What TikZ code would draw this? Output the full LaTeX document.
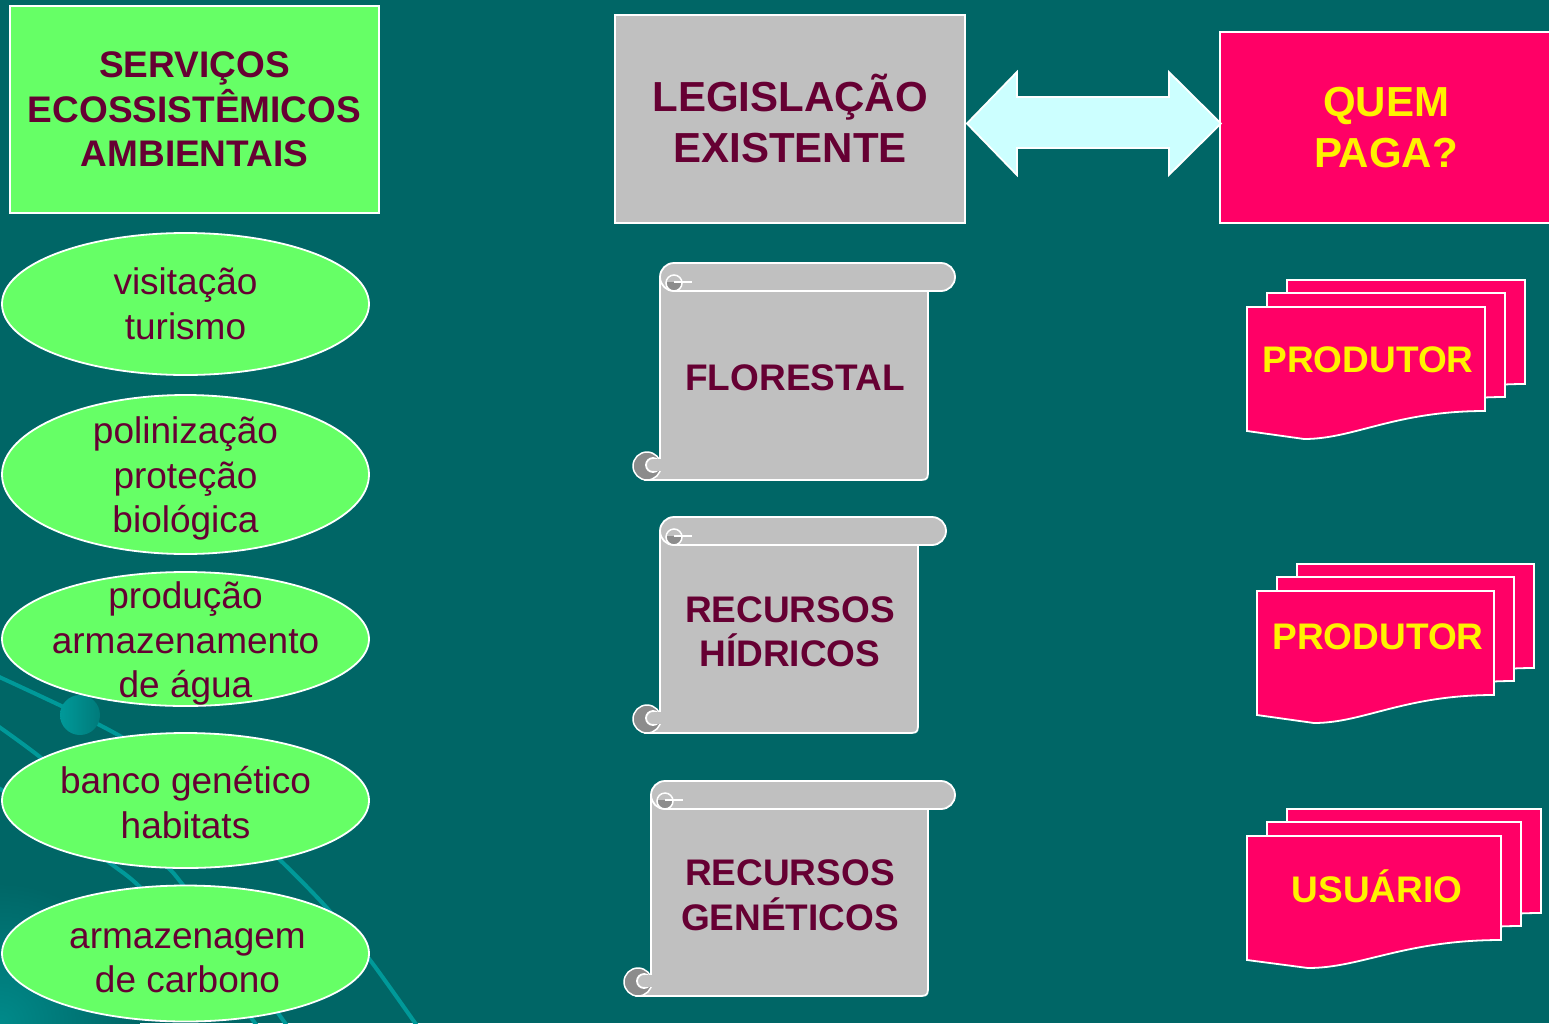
\documentclass[tikz,border=0pt]{standalone}
\usepackage{fontspec}
\setmainfont{Liberation Sans}
\usepackage{xcolor}
\usepackage{tikz}
\usetikzlibrary{positioning,shapes.geometric,calc}

\definecolor{bgteal}{RGB}{0,102,102}
\definecolor{lineteal}{RGB}{0,153,153}
\definecolor{lightgreen}{RGB}{102,255,102}
\definecolor{maroon}{RGB}{102,0,51}
\definecolor{scrollgray}{RGB}{192,192,192}
\definecolor{curlgray}{RGB}{140,140,140}
\definecolor{hotpink}{RGB}{255,0,102}
\definecolor{paleblue}{RGB}{204,255,255}

\begin{document}
\begin{tikzpicture}
	[x=1pt,y=-1pt,
	every node/.style={inner sep=0pt,align=center},
	boxtext/.style={font=\fontsize{37}{44.5}\selectfont\bfseries,text=maroon},
	bigtext/.style={font=\fontsize{42}{51}\selectfont\bfseries},
	greenbox/.style={rectangle,fill=lightgreen,draw=white,line width=1.8pt,minimum width=369pt,minimum height=207pt,boxtext},
	bubble/.style={ellipse,fill=lightgreen,draw=white,line width=1.8pt,minimum width=367pt},
	bubbletext/.style={font=\fontsize{37}{44.5}\selectfont,text=maroon},
	graybox/.style={rectangle,fill=scrollgray,draw=white,line width=1.8pt,minimum width=350pt,minimum height=208pt,bigtext,text=maroon},
	pinkbox/.style={rectangle,fill=hotpink,draw=white,line width=1.8pt,minimum width=332pt,minimum height=191pt,bigtext,text=yellow},
	scrollpart/.style={fill=scrollgray,draw=white,line width=1.8pt},
	curl/.style={fill=curlgray,draw=white,line width=1.5pt},
	docpart/.style={fill=hotpink,draw=white,line width=1.8pt},
	doctext/.style={font=\fontsize{37}{44.5}\selectfont\bfseries,text=yellow},
	arrowpart/.style={fill=paleblue,draw=white,line width=1.8pt},
	deco/.style={draw=lineteal,line width=4pt}]
	\useasboundingbox (0,0) rectangle (1549,1023);
	\fill[bgteal] (0,0) rectangle (1549,1023);
	\shade[inner color=lineteal!70!bgteal,outer color=bgteal] (0,1023) circle[radius=140];
	% background lines
	\draw[deco] plot[smooth] coordinates {(-5,675) (80,715) (140,748) (220,805) (280,860) (327,908) (370,960) (420,1030)};
	\draw[deco] plot[smooth] coordinates {(-5,724) (40,757) (100,808) (163,863) (183,885) (240,960) (290,1030)};
	\draw[deco] plot[smooth] coordinates {(-5,786) (60,825) (110,863) (140,887) (200,950) (260,1030)};
	\shade[left color=lineteal,right color=lineteal!40!bgteal] (80,715) circle[radius=20];

	% left column
	\node[greenbox] (servicos) at (194.5,109.5) {SERVIÇOS\\ECOSSISTÊMICOS\\AMBIENTAIS};
	\node[bubble,minimum height=142pt] (visitacao) at (185.5,304) {};
	\node[bubble,minimum height=159pt] (polinizacao) at (185.5,474.5) {};
	\node[bubble,minimum height=134pt] (producao) at (185.5,639) {};
	\node[bubble,minimum height=135pt] (banco) at (185.5,800.5) {};
	\node[bubble,minimum height=136pt] (carbono) at (185.5,953.5) {};
	\node[bubbletext] (visitacao-t) at (visitacao) {visitação\\turismo};
	\node[bubbletext] (polinizacao-t) at ([yshift=-4pt]polinizacao) {polinização\\proteção\\biológica};
	\node[bubbletext] (producao-t) at ([yshift=-4.5pt]producao) {produção\\armazenamento\\de água};
	\node[bubbletext] (banco-t) at ([yshift=-2pt]banco) {banco genético\\habitats};
	\node[bubbletext] (carbono-t) at ([xshift=2pt,yshift=-7pt]carbono) {armazenagem\\de carbono};

	% middle column
	\node[graybox] (legislacao) at (790,119) {LEGISLAÇÃO\\EXISTENTE};
	\foreach \xl/\yt/\xr/\xb/\yb in {660/263/928/955/480,660/517/918/946/733,651/781/928/955/996}{
		\draw[scrollpart] (\xl,\yt+14) -- (\xr,\yt+14) -- (\xr,\yb-12) .. controls (\xr,\yb) .. (\xr-12,\yb) -- (\xl-14,\yb) -- (\xl,\yb-14) -- cycle;
		\draw[scrollpart,rounded corners=14pt] (\xl,\yt) rectangle (\xb,\yt+28);
		\begin{scope}
			\clip (\xl,\yt+19) rectangle (\xl+30,\yt+30);
			\fill[curlgray] (\xl+14,\yt+20) circle[radius=8];
		\end{scope}
		\draw[white,line width=1.5pt] (\xl+14,\yt+20) circle[radius=8];
		\draw[white,line width=1.5pt] (\xl+14,\yt+19) -- (\xl+32,\yt+19);
		\draw[curl] (\xl-13,\yb-14) circle[radius=14];
		\draw[scrollpart] (\xl-7,\yb-15) circle[radius=7];
		\fill[scrollgray] (\xl-6,\yb-21) rectangle (\xl+1.5,\yb-9);
	}
	\node[boxtext] (florestal) at (795,378) {FLORESTAL};
	\node[boxtext] (hidricos) at (790,632) {RECURSOS\\HÍDRICOS};
	\node[boxtext] (geneticos) at (790,895) {RECURSOS\\GENÉTICOS};

	% right column
	\node[pinkbox] (quempaga) at (1386,127.5) {QUEM\\PAGA?};
	\draw[arrowpart] ($(legislacao.east)+(1,4.5)$) -- ++(50,-51.5) -- ++(0,25) -- ++(152,0) -- ++(0,-25) -- ++(52,51.5) -- ++(-52,51.5) -- ++(0,-27) -- ++(-152,0) -- ++(0,27) -- cycle;
	\foreach \xa/\ya/\w in {1247/307/238,1257/591/237,1247/836/254}{
		\foreach \dx/\dy in {40/-27,20/-14,0/0}{
			\draw[docpart,shift={(\dx,\dy)}] (\xa,\ya) -- (\xa+\w,\ya) -- (\xa+\w,\ya+104) .. controls (\xa+0.62*\w,\ya+104) and (\xa+0.45*\w,\ya+132) .. (\xa+0.24*\w,\ya+132) -- (\xa,\ya+124) -- cycle;
		}
	}
	\node[doctext] (produtor1) at (1368,360) {PRODUTOR};
	\node[doctext] (produtor2) at (1378,637) {PRODUTOR};
	\node[doctext] (usuario) at (1377,886) {USUÁRIO};
\end{tikzpicture}
\end{document}
